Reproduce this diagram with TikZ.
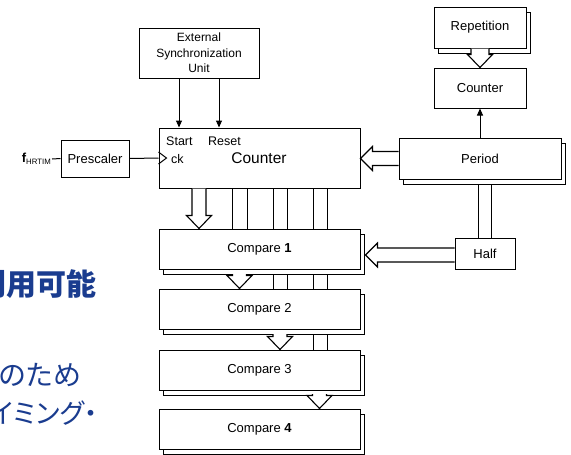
\documentclass[tikz,border=0pt]{standalone}
\usepackage{fontspec}
\setmainfont{Liberation Sans}
\newfontfamily\jp[RawFeature=+palt]{Noto Sans CJK JP}
\usetikzlibrary{calc,arrows.meta,shadows}
\definecolor{jpblue}{HTML}{1A3C8F}
\newcommand\harrdown[4]{% start, tip, shaft half width, head half width
  \path[harrow] let \p1=(#1),\p2=(#2) in
    (\x1-#3,\y1) -- (\x1-#3,\y2+13pt) -- (\x1-#4,\y2+13pt) -- (\x1,\y2)
    -- (\x1+#4,\y2+13pt) -- (\x1+#3,\y2+13pt) -- (\x1+#3,\y1);}
\newcommand\harrleft[2]{% start, tip
  \path[harrow] let \p1=(#1),\p2=(#2) in
    (\x1,\y1+7pt) -- (\x2+12pt,\y1+7pt) -- (\x2+12pt,\y1+12pt) -- (\x2,\y1)
    -- (\x2+12pt,\y1-12pt) -- (\x2+12pt,\y1-7pt) -- (\x1,\y1-7pt);}
\begin{document}
\begin{tikzpicture}[x=1pt,y=-1pt,
  box/.style={draw, fill=white, line width=1pt, inner sep=0pt, align=center,
    font=\fontsize{13}{15}\selectfont},
  sbox/.style={box, copy shadow={shadow xshift=4pt, shadow yshift=-5pt}},
  harrow/.style={draw=black, fill=white, line width=1.1pt},
  conn/.style={line width=1pt},
  tipped/.style={conn, -{Triangle[length=7pt,width=6pt]}},
  jptext/.style={anchor=base west, inner sep=0pt, text=jpblue}
]
\useasboundingbox (0,0) rectangle (571,455);
\clip (0,0) rectangle (571,455);

% Japanese background text (cut at the left edge as in the reference)
\node[jptext, font=\jp\bfseries\fontsize{30}{30}\selectfont] (j1) at (-24,295) {利用可能};
\node[jptext, font=\jp\fontsize{28}{28}\selectfont] (j2) at (-1,385) {のため};
\node[jptext, font=\jp\fontsize{27}{27}\selectfont] (j3) at (-34,423) {タイミング・};

% coordinates for vertical lines
\coordinate (xa) at (179,0);
\coordinate (xb) at (219,0);
\coordinate (xp1) at (478,0);
\coordinate (xp2) at (491,0);

% boxes
\node[box, minimum width=120pt, minimum height=50pt, font=\fontsize{12}{15.5}\selectfont]
  (ext) at (199,53) {External\\Synchronization\\Unit};
\node[box, minimum width=201pt, minimum height=60pt] (cnt) at (259.5,158) {};
\node[box, minimum width=68pt, minimum height=37pt] (pre) at (95,158.5) {Prescaler};
\node[box, minimum width=92pt, minimum height=40pt] (sc) at (480,88) {Counter};

% lines drawn under the boxes
\foreach \xx [count=\i] in {232,247,273,287,313,327}{
  \coordinate (v\i) at (\xx,0);
}
\coordinate (c1n) at (0,229);
\coordinate (c2n) at (0,289);
\coordinate (c3n) at (0,350);
\draw[conn] (cnt.south -| v1) -- (c1n -| v1);
\draw[conn] (cnt.south -| v2) -- (c1n -| v2);
\draw[conn] (cnt.south -| v3) -- (c2n -| v3);
\draw[conn] (cnt.south -| v4) -- (c2n -| v4);
\draw[conn] (cnt.south -| v5) -- (c3n -| v5);
\draw[conn] (cnt.south -| v6) -- (c3n -| v6);

\node[box, minimum width=60pt, minimum height=31pt] (half) at (485,253.5) {Half};
\coordinate (pb) at (0,184);
\draw[conn] (pb -| xp1) -- (half.north -| xp1);
\draw[conn] (pb -| xp2) -- (half.north -| xp2);

\node[sbox, minimum width=92pt, minimum height=41pt] (rep) at (480,27.5) {Repetition};
\node[sbox, minimum width=162pt, minimum height=41pt] (per) at (480,158.5) {Period};

\node[sbox, minimum width=201pt, minimum height=40pt] (c1) at (259.5,249) {Compare \textbf{1}};
\node[sbox, minimum width=201pt, minimum height=40pt] (c2) at (259.5,309) {Compare 2};
\node[sbox, minimum width=201pt, minimum height=40pt] (c3) at (259.5,370) {Compare 3};
\node[sbox, minimum width=201pt, minimum height=40pt] (c4) at (259.5,429) {Compare \textbf{4}};

% texts in the main counter
\node[anchor=base west, inner sep=0pt, font=\fontsize{12.5}{14}\selectfont] (tstart) at (166,145) {Start};
\node[anchor=base west, inner sep=0pt, font=\fontsize{12.5}{14}\selectfont] (treset) at (208,145) {Reset};
\node[anchor=base west, inner sep=0pt, font=\fontsize{12.5}{14}\selectfont] (tck) at (171,163) {ck};
\node[anchor=base, inner sep=0pt, font=\fontsize{15.5}{17}\selectfont] (tcnt) at (259,163) {Counter};
\draw[conn] ($(cnt.west)+(0,-6)$) -- ($(cnt.west)+(8,0)$) -- ($(cnt.west)+(0,6)$);

% prescaler chain
\node[anchor=east, inner sep=1pt, font=\fontsize{13}{15}\selectfont] (f) at (52,159)
  {\textbf{f}\raisebox{-2pt}{\fontsize{7.8}{8}\selectfont HRTIM}};
\draw[conn] (f.east) -- (pre.west);
\draw[conn] (pre.east) -- (cnt.west);

% arrows from external sync
\draw[tipped] (ext.south -| xa) -- (cnt.north -| xa);
\draw[tipped] (ext.south -| xb) -- (cnt.north -| xb);
% period to small counter
\draw[tipped] (per.north) -- (sc.south);

% hollow arrows
\harrdown{rep.south}{sc.north}{9pt}{12.5pt}
\coordinate (x1) at (199,0);
\coordinate (x2) at (239.5,0);
\coordinate (x3) at (280,0);
\coordinate (x4) at (319.5,0);
\harrdown{cnt.south -| x1}{c1.north -| x1}{7pt}{12.5pt}
\coordinate (c1b) at (0,274);
\coordinate (c2b) at (0,334);
\coordinate (c3b) at (0,394);
\harrdown{c1b -| x2}{c2.north -| x2}{7pt}{12.5pt}
\harrdown{c2b -| x3}{c3.north -| x3}{7pt}{12.5pt}
\harrdown{c3b -| x4}{c4.north -| x4}{7pt}{12.5pt}
\harrleft{per.west}{cnt.east}
\coordinate (c1s) at ($(c1.east)+(5,0)$);
\coordinate (hy) at (0,255);
\harrleft{half.west |- hy}{c1s |- hy}
\end{tikzpicture}
\end{document}
